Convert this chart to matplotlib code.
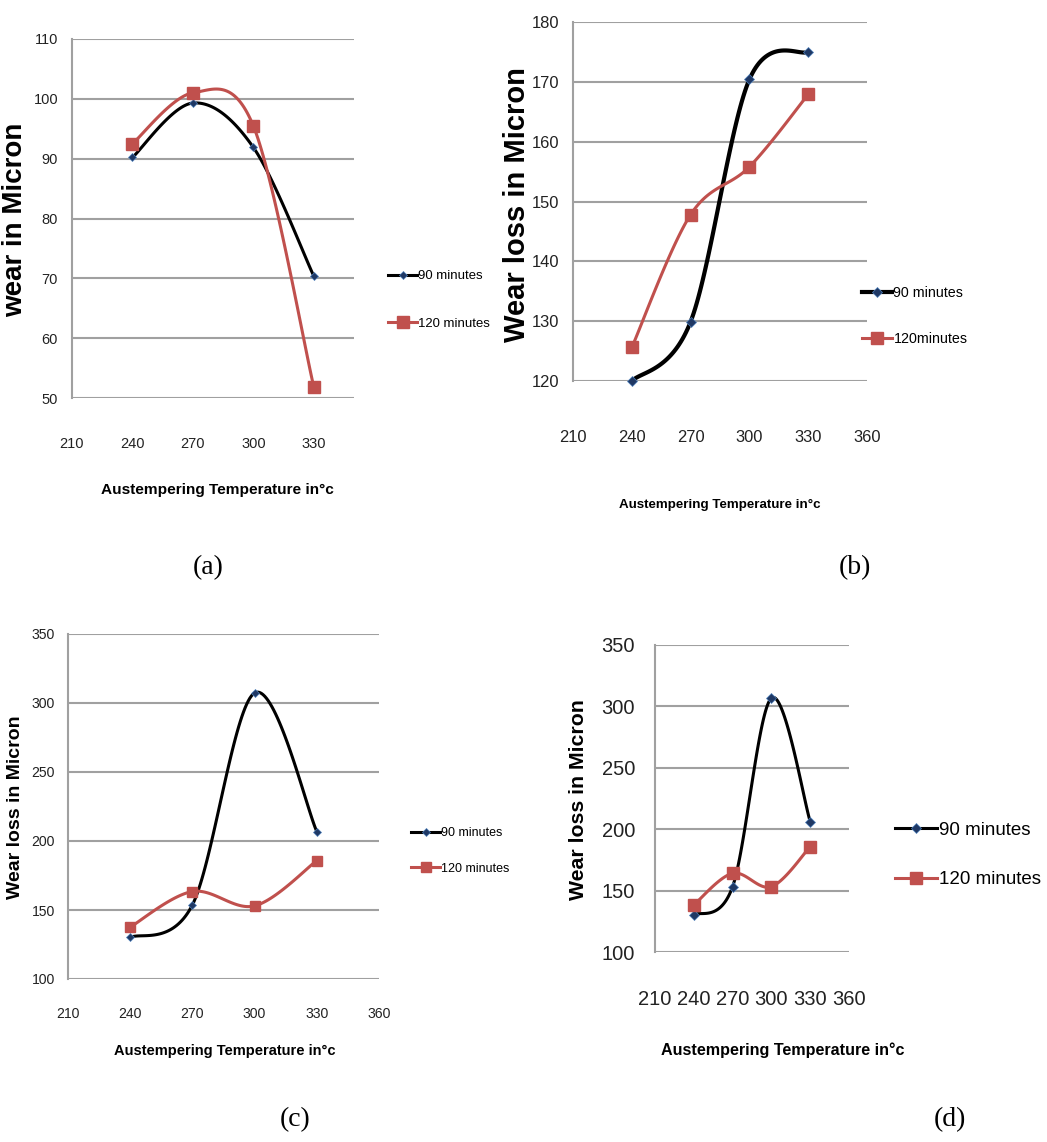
import numpy as np
import matplotlib
matplotlib.use('Agg')
import matplotlib.pyplot as plt
from matplotlib import font_manager
from matplotlib.lines import Line2D

# data
temps = [240, 270, 300, 330]

a_90 = [90.2, 99.3, 91.9, 70.4]
a_120 = [92.5, 101.0, 95.5, 51.9]

b_90 = [120.0, 129.9, 170.4, 175.0]
b_120 = [125.6, 147.8, 155.8, 167.9]

c_90 = [130.1, 153.7, 307.3, 206.8]
c_120 = [137.6, 163.4, 153.0, 185.8]

d_90 = [130.2, 153.2, 306.8, 206.2]
d_120 = [138.3, 164.1, 153.2, 185.8]

labels_a = ['90 minutes', '120 minutes']
labels_b = ['90 minutes', '120minutes']
xlabel = 'Austempering Temperature in°c'

W, H = 1047, 1142
BLACK = '#000000'
RED = '#C0504D'
NAVY = '#1F3864'
GRID = '#A0A0A0'

names = {f.name for f in font_manager.fontManager.ttflist}
if 'Liberation Sans Narrow' in names:
    NARROW = 'Liberation Sans Narrow'
    k = 1.0
else:
    NARROW = 'Liberation Sans'
    k = 0.82
kt = k * 1.07  # tick labels a little taller


def smooth(x, y, n=40):
    # excel style smoothed line (catmull-rom bezier)
    p = np.column_stack([x, y]).astype(float)
    P = np.vstack([p[0], p, p[-1]])
    out = []
    t = np.linspace(0, 1, n)[:, None]
    for i in range(len(p) - 1):
        p0, p1, p2, p3 = P[i], P[i + 1], P[i + 2], P[i + 3]
        c1 = p1 + (p2 - p0) / 6
        c2 = p2 - (p3 - p1) / 6
        seg = ((1 - t) ** 3) * p1 + 3 * ((1 - t) ** 2) * t * c1 + 3 * (1 - t) * t ** 2 * c2 + t ** 3 * p2
        out.append(seg if i == 0 else seg[1:])
    out = np.vstack(out)
    return out[:, 0], out[:, 1]


def box(x0, x1, ytop, ybot):
    return [x0 / W, 1 - ybot / H, (x1 - x0) / W, (ybot - ytop) / H]


fig = plt.figure(figsize=(W / 100, H / 100), dpi=100)


def panel(rect, y90, y120, xlim, ylim, ystep, xticks, tfs, xpad, ypad,
          ylab, yfs, xlab_xy, xfs, lw90, lw120, ms, leg_xy, lfs, lsp, hlen_px,
          labels, cap, cap_xy):
    ax = fig.add_axes(rect)
    for s in ['top', 'right', 'bottom']:
        ax.spines[s].set_visible(False)
    ax.spines['left'].set_color(GRID)
    ax.spines['left'].set_linewidth(1.5)
    ax.set_xlim(*xlim)
    ax.set_ylim(*ylim)
    ax.set_yticks(np.arange(ylim[0], ylim[1] + 1, ystep))
    ax.set_xticks(xticks)
    ax.yaxis.grid(True, color=GRID, lw=1.5)
    ax.set_axisbelow(True)
    ax.tick_params(length=0, labelsize=tfs * kt, labelcolor='#222222')
    ax.tick_params(axis='x', pad=xpad)
    ax.tick_params(axis='y', pad=ypad)
    for lab in ax.get_xticklabels() + ax.get_yticklabels():
        lab.set_family(NARROW)

    sx, sy = smooth(temps, y90)
    ax.plot(sx, sy, color=BLACK, lw=lw90, solid_capstyle='round', clip_on=False)
    ax.plot(temps, y90, ls='none', marker='D', ms=ms * 0.55, color=NAVY,
            mec='#4F81BD', mew=0.5, clip_on=False)
    sx, sy = smooth(temps, y120)
    ax.plot(sx, sy, color=RED, lw=lw120, solid_capstyle='round', clip_on=False)
    ax.plot(temps, y120, ls='none', marker='s', ms=ms, color=RED, clip_on=False)

    fig.text(ylab[0] / W, 1 - ylab[1] / H, ylab[2], rotation=90, ha='center', va='center',
             fontsize=yfs, fontweight='bold', family='Liberation Sans')
    fig.text(xlab_xy[0] / W, 1 - xlab_xy[1] / H, xlabel, ha='center', va='center',
             fontsize=xfs * k, fontweight='bold', family=NARROW)

    handles = [Line2D([], [], color=BLACK, lw=lw90, marker='D', ms=ms * 0.55,
                      mfc=NAVY, mec='#4F81BD', mew=0.5),
               Line2D([], [], color=RED, lw=lw120, marker='s', ms=ms, mfc=RED, mec=RED)]
    fs_px = lfs * k * 100 / 72
    ax.legend(handles, labels, loc='center left',
              bbox_to_anchor=(leg_xy[0] / W, 1 - leg_xy[1] / H),
              bbox_transform=fig.transFigure, frameon=False,
              prop={'family': NARROW, 'size': lfs * k},
              handlelength=hlen_px / fs_px, handletextpad=0.1, labelspacing=lsp,
              borderpad=0, borderaxespad=0)
    fig.text(cap_xy[0] / W, 1 - cap_xy[1] / H, cap, ha='center', va='center',
             fontsize=20, family='Liberation Serif')
    return ax


# (a)
panel(box(72, 354, 39, 398), a_90, a_120, (210, 350), (50, 110), 10,
      [210, 240, 270, 300, 330], tfs=12, xpad=28, ypad=10,
      ylab=(15, 220, 'wear in Micron'), yfs=20, xlab_xy=(217, 490), xfs=13.5,
      lw90=2.2, lw120=2.2, ms=8, leg_xy=(388, 300), lfs=11.5, lsp=2.7, hlen_px=29,
      labels=labels_a, cap='(a)', cap_xy=(208, 568))

# (b)
panel(box(573, 867, 22, 381), b_90, b_120, (210, 360), (120, 180), 10,
      [210, 240, 270, 300, 330, 360], tfs=13.5, xpad=35, ypad=10,
      ylab=(517, 205, 'Wear loss in Micron'), yfs=21, xlab_xy=(720, 505), xfs=11.8,
      lw90=3.0, lw120=2.2, ms=9, leg_xy=(862, 316), lfs=12.5, lsp=2.2, hlen_px=30,
      labels=labels_b, cap='(b)', cap_xy=(855, 568))

# (c)
panel(box(68, 379, 634, 979), c_90, c_120, (210, 360), (100, 350), 50,
      [210, 240, 270, 300, 330, 360], tfs=11.5, xpad=20, ypad=9.4,
      ylab=(16, 807, 'Wear loss in Micron'), yfs=14, xlab_xy=(225, 1051), xfs=12.8,
      lw90=2.2, lw120=2.2, ms=7.5, leg_xy=(411, 851), lfs=11, lsp=1.87, hlen_px=29,
      labels=labels_a, cap='(c)', cap_xy=(295, 1120))

# (d)
panel(box(655, 849, 645, 952), d_90, d_120, (210, 360), (100, 350), 50,
      [210, 240, 270, 300, 330, 360], tfs=16.5, xpad=27.5, ypad=14.4,
      ylab=(578, 800, 'Wear loss in Micron'), yfs=15.3, xlab_xy=(783, 1050), xfs=14.2,
      lw90=2.2, lw120=2.2, ms=9, leg_xy=(895, 855), lfs=16.5, lsp=1.7, hlen_px=42,
      labels=labels_a, cap='(d)', cap_xy=(950, 1120))

fig.savefig('out.png', dpi=100)
